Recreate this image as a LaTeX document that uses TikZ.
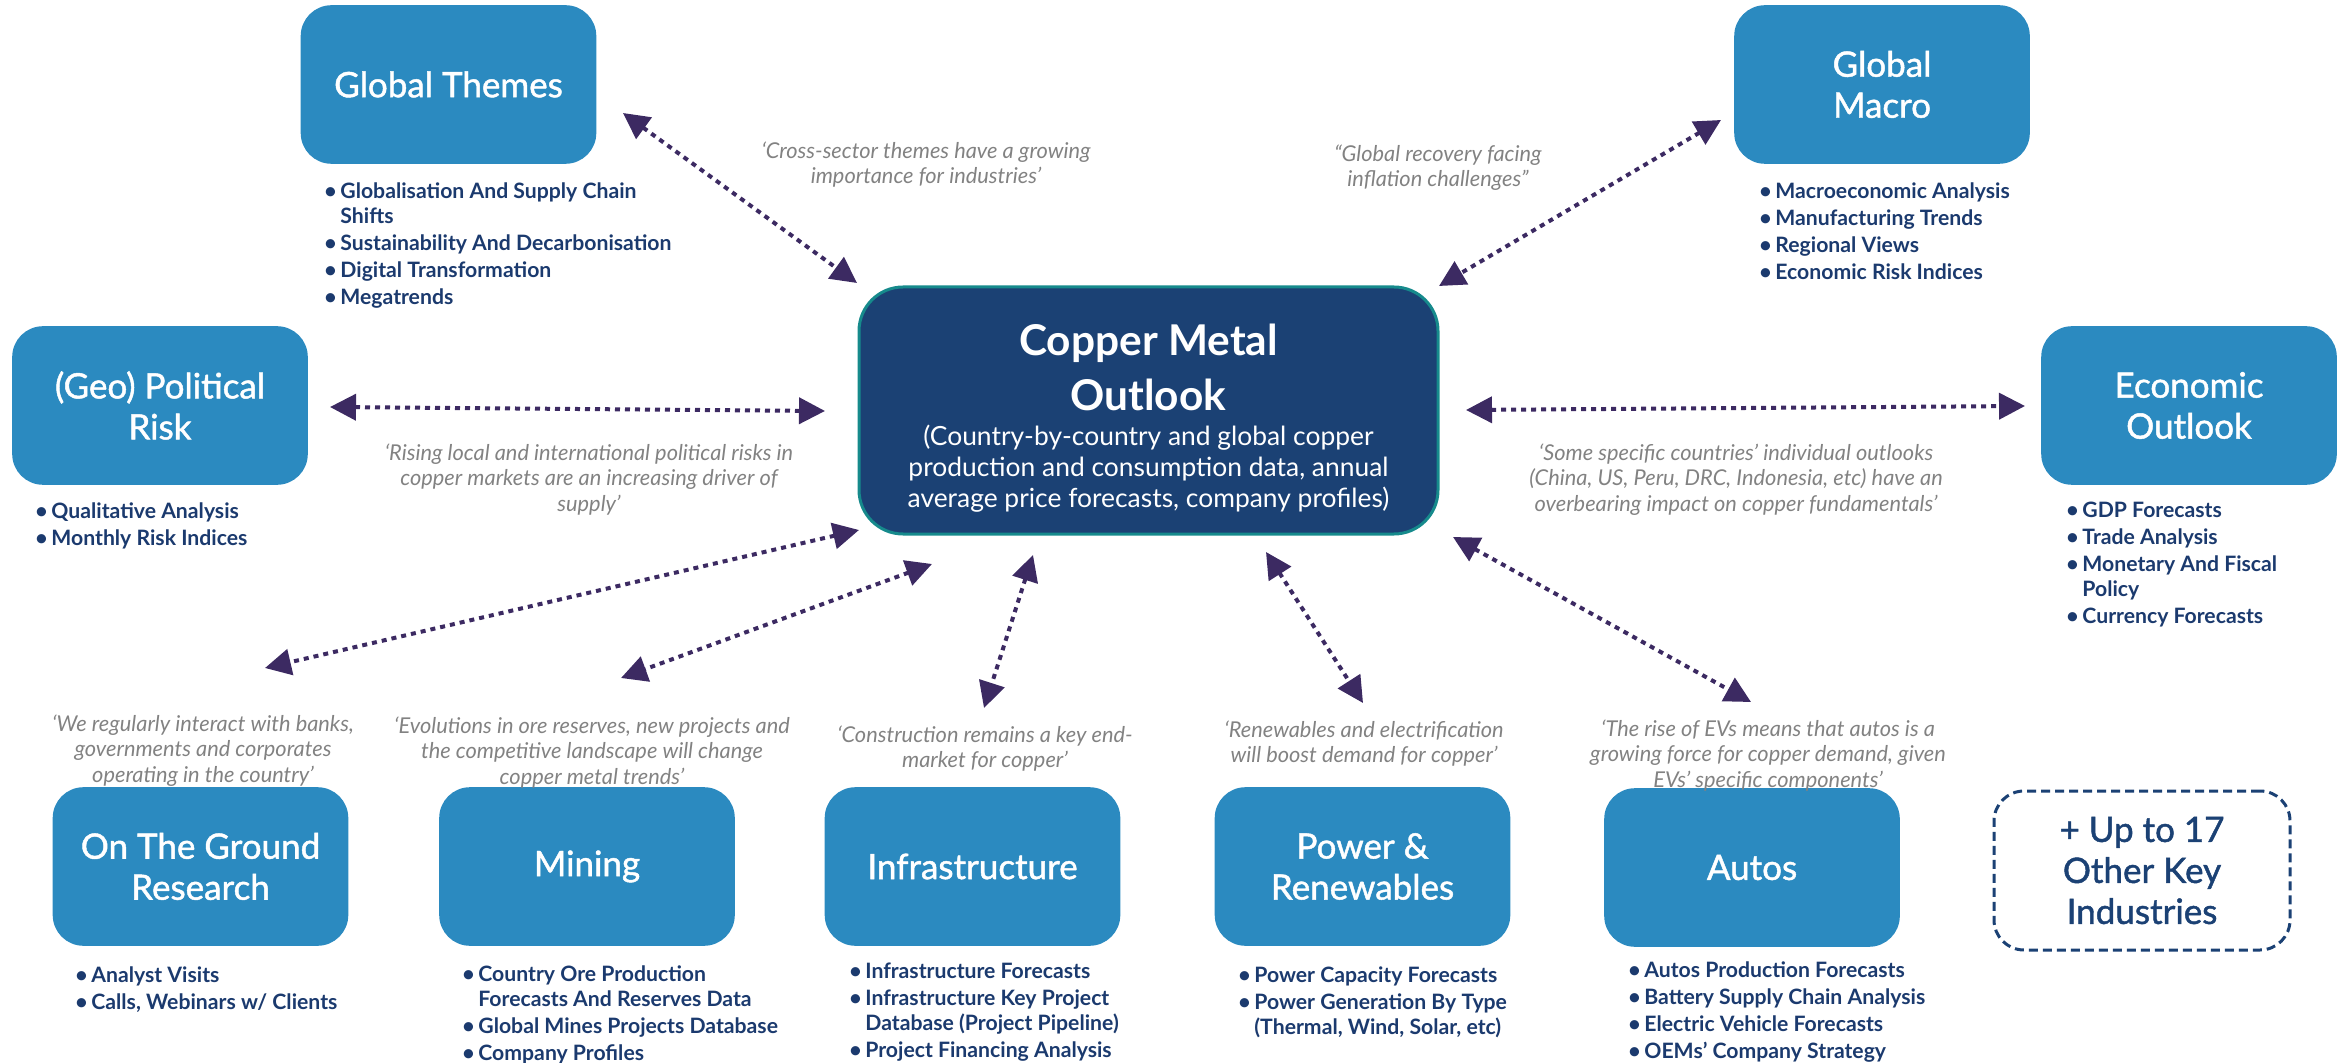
\documentclass[tikz,border=0pt]{standalone}
\usepackage{fontspec}
\setmainfont{Lato}
\newfontfamily\titlefont{Lato}[FakeBold=1.3]
\usetikzlibrary{arrows.meta}
\definecolor{boxblue}{HTML}{2B8AC0}
\definecolor{corenavy}{HTML}{1B4174}
\definecolor{coreborder}{HTML}{168A8C}
\definecolor{linkpurple}{HTML}{3C2A62}
\definecolor{quotegray}{HTML}{828282}
\definecolor{listnavy}{HTML}{1B3A6E}
\newcommand\bitem{\makebox[8pt][l]{\textbullet}}
\newcommand\bcont{\hspace*{8pt}}
\tikzset{
  topicbox/.style={rectangle, rounded corners=15pt, fill=boxblue, draw=boxblue, line width=0.8pt,
    minimum width=147pt, minimum height=78.5pt, text=white, align=center, inner sep=0pt,
    font=\titlefont\fontsize{17.5}{20.5}\selectfont},
  quotetext/.style={font=\fontsize{10.9}{12.75}\selectfont\itshape, text=quotegray, align=center, anchor=north, inner sep=0pt},
  bulletlist/.style={font=\fontsize{10.6}{12.5}\selectfont\bfseries, text=listnavy, align=left, anchor=north west, inner sep=0pt},
  link/.style={draw=linkpurple, line width=2pt, dash pattern=on 2.5pt off 2.5pt,
    {Triangle[length=13pt,width=13pt]}-{Triangle[length=13pt,width=13pt]}}
}
\begin{document}
\begin{tikzpicture}[x=0.5pt,y=-0.5pt]
\useasboundingbox (0,0) rectangle (2338,1063);

% central node
\node[rectangle, rounded corners=22pt, fill=corenavy, draw=coreborder, line width=1.5pt,
  minimum width=289.5pt, minimum height=123.5pt, text=white, inner sep=0pt] (core) at (1148.5,410.5) {};
\node[text=white, inner sep=0pt] (coretext) at (1148.5,418)
{\begin{minipage}{285pt}\centering
{\fontsize{21.2}{27.5}\selectfont\bfseries Copper Metal\\Outlook\par}
\vspace{2pt}
{\fontsize{13.2}{15.5}\selectfont (Country-by-country and global copper\\production and consumption data, annual\\average price forecasts, company profiles)\par}
\end{minipage}};

% topic boxes
\node[topicbox] (gt) at (448.5,84.5) {Global Themes};
\node[topicbox] (gm) at (1882,84.5) {Global\\Macro};
\node[topicbox] (gp) at (160,405.5) {(Geo) Political\\Risk};
\node[topicbox] (eo) at (2189,405.5) {Economic\\Outlook};
\node[topicbox] (og) at (200.5,866.5) {On The Ground\\Research};
\node[topicbox] (mi) at (587,866.5) {Mining};
\node[topicbox] (in) at (972.5,866.5) {Infrastructure};
\node[topicbox] (pw) at (1362.5,866.5) {Power \&\\Renewables};
\node[topicbox] (au) at (1752,867.5) {Autos};
\node[rectangle, rounded corners=15pt, draw=corenavy, line width=1.5pt, dash pattern=on 4.5pt off 2.5pt,
  minimum width=148pt, minimum height=79.5pt, text=corenavy, align=center, inner sep=0pt,
  font=\titlefont\fontsize{17.5}{20.5}\selectfont] (more) at (2142,870.5) {+ Up to 17\\Other Key\\Industries};

% bullet lists
\node[bulletlist] (gtl) at (324,182) {\bitem Globalisation And Supply Chain\\\bcont Shifts\\[1pt]\bitem Sustainability And Decarbonisation\\[1pt]\bitem Digital Transformation\\[1pt]\bitem Megatrends};
\node[bulletlist] (gml) at (1759,182) {\bitem Macroeconomic Analysis\\[1pt]\bitem Manufacturing Trends\\[1pt]\bitem Regional Views\\[1pt]\bitem Economic Risk Indices};
\node[bulletlist] (gpl) at (35,502) {\bitem Qualitative Analysis\\[1pt]\bitem Monthly Risk Indices};
\node[bulletlist] (eol) at (2066,502) {\bitem GDP Forecasts\\[1pt]\bitem Trade Analysis\\[1pt]\bitem Monetary And Fiscal\\\bcont Policy\\[1pt]\bitem Currency Forecasts};
\node[bulletlist] (ogl) at (75,966) {\bitem Analyst Visits\\[1pt]\bitem Calls, Webinars w/ Clients};
\node[bulletlist] (mil) at (462,965) {\bitem Country Ore Production\\\bcont Forecasts And Reserves Data\\[1pt]\bitem Global Mines Projects Database\\[1pt]\bitem Company Profiles};
\node[bulletlist] (inl) at (849,962) {\bitem Infrastructure Forecasts\\[1pt]\bitem Infrastructure Key Project\\\bcont Database (Project Pipeline)\\[1pt]\bitem Project Financing Analysis};
\node[bulletlist] (pwl) at (1238,966) {\bitem Power Capacity Forecasts\\[1pt]\bitem Power Generation By Type\\\bcont (Thermal, Wind, Solar, etc)};
\node[bulletlist] (aul) at (1628,961) {\bitem Autos Production Forecasts\\[1pt]\bitem Battery Supply Chain Analysis\\[1pt]\bitem Electric Vehicle Forecasts\\[1pt]\bitem OEMs' Company Strategy};

% quotes
\node[quotetext] (q1) at (926,141) {‘Cross-sector themes have a growing\\importance for industries’};
\node[quotetext] (q2) at (1438,144) {“Global recovery facing\\inflation challenges”};
\node[quotetext] (q3) at (589,443) {‘Rising local and international political risks in\\copper markets are an increasing driver of\\supply’};
\node[quotetext] (q4) at (1736,443) {‘Some specific countries’ individual outlooks\\(China, US, Peru, DRC, Indonesia, etc) have an\\overbearing impact on copper fundamentals’};
\node[quotetext] (q5) at (203,714) {‘We regularly interact with banks,\\governments and corporates\\operating in the country’};
\node[quotetext] (q6) at (592,716) {‘Evolutions in ore reserves, new projects and\\the competitive landscape will change\\copper metal trends’};
\node[quotetext] (q7) at (985,725) {‘Construction remains a key end-\\market for copper’};
\node[quotetext] (q8) at (1364,720) {‘Renewables and electrification\\will boost demand for copper’};
\node[quotetext] (q9) at (1768,719) {‘The rise of EVs means that autos is a\\growing force for copper demand, given\\EVs' specific components’};

% arrow end points
\coordinate (gt-end) at (623,113);   \coordinate (core-gt) at (857,283);
\coordinate (gm-end) at (1721,120);  \coordinate (core-gm) at (1439,286);
\coordinate (gp-end) at (330,407);   \coordinate (core-gp) at (825,411);
\coordinate (eo-end) at (2025,406);  \coordinate (core-eo) at (1466,410);
\coordinate (og-end) at (265,668);   \coordinate (core-og) at (859,530);
\coordinate (mi-end) at (621,678);   \coordinate (core-mi) at (932,564);
\coordinate (in-end) at (984,708);   \coordinate (core-in) at (1033,555);
\coordinate (pw-end) at (1363,703);  \coordinate (core-pw) at (1266,552);
\coordinate (au-end) at (1751,702);  \coordinate (core-au) at (1453,537);

\draw[link] (gt-end) -- (core-gt);
\draw[link] (gm-end) -- (core-gm);
\draw[link] (gp-end) -- (core-gp);
\draw[link] (core-eo) -- (eo-end);
\draw[link] (core-og) -- (og-end);
\draw[link] (core-mi) -- (mi-end);
\draw[link] (core-in) -- (in-end);
\draw[link] (core-pw) -- (pw-end);
\draw[link] (core-au) -- (au-end);
\end{tikzpicture}
\end{document}
